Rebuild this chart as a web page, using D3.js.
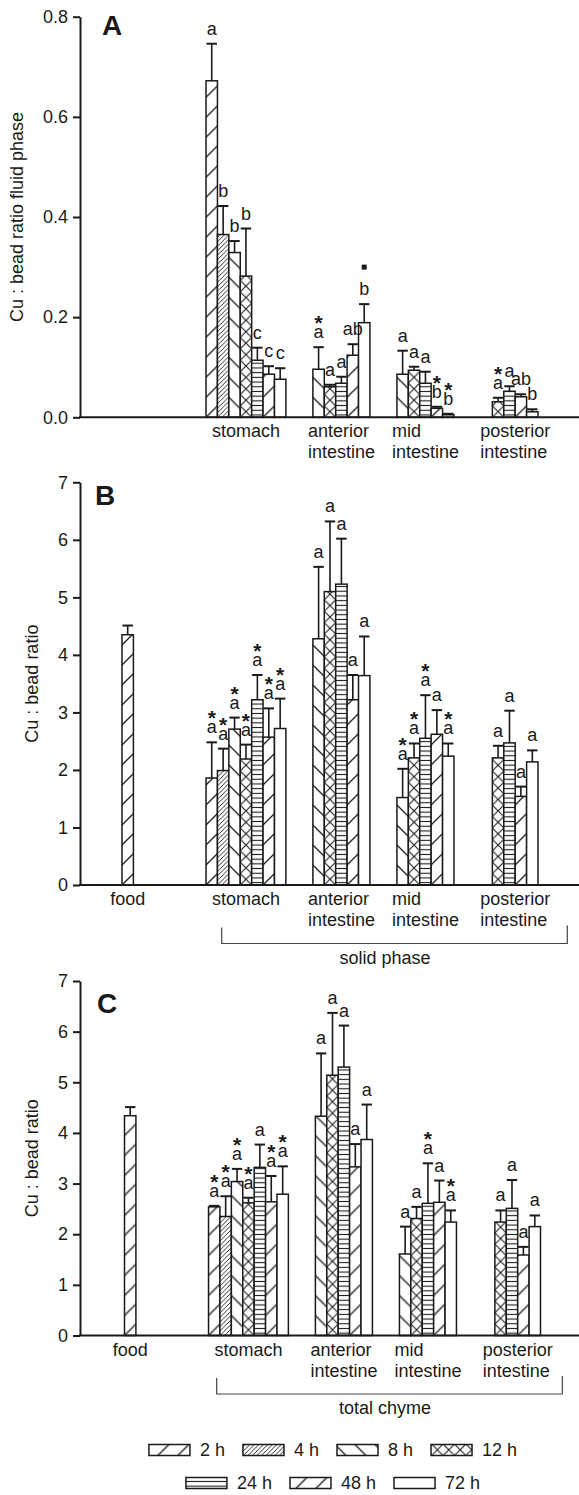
<!DOCTYPE html>
<html>
<head>
<meta charset="utf-8">
<script src="https://cdn.jsdelivr.net/npm/d3@7"></script>
<style>
  body { margin: 0; background: #fff; }
  svg { display: block; font-family: 'Liberation Sans', Arial, Helvetica, sans-serif; }
</style>
</head>
<body>
<svg id="chart" width="579" height="1495"></svg>
<script>
const hours = ['2 h', '4 h', '8 h', '12 h', '24 h', '48 h', '72 h']
const sites = ['food', 'stomach', 'anterior intestine', 'mid intestine', 'posterior intestine']
const siteLines = [['food'], ['stomach'], ['anterior', 'intestine'], ['mid', 'intestine'], ['posterior', 'intestine']]

const fluidTicks = [0, 0.2, 0.4, 0.6, 0.8]
const ratioTicks = [0, 1, 2, 3, 4, 5, 6, 7]

// A: fluid phase, rows = sites, columns = hours
const fluidMean = [
  [null, null, null, null, null, null, null],
  [0.672, 0.365, 0.329, 0.282, 0.114, 0.086, 0.076],
  [null, null, 0.096, 0.061, 0.068, 0.124, 0.189],
  [null, null, 0.086, 0.094, 0.068, 0.018, 0.005],
  [null, null, null, 0.031, 0.052, 0.041, 0.011]
]
const fluidSE = [
  [null, null, null, null, null, null, null],
  [0.074, 0.057, 0.023, 0.095, 0.025, 0.016, 0.022],
  [null, null, 0.044, 0.004, 0.013, 0.022, 0.037],
  [null, null, 0.047, 0.007, 0.023, 0.003, 0.002],
  [null, null, null, 0.008, 0.010, 0.005, 0.005]
]
const fluidLetters = [
  ['', '', '', '', '', '', ''],
  ['a', 'b', 'b', 'b', 'c', 'c', 'c'],
  ['', '', 'a', 'a', 'a', 'ab', 'b'],
  ['', '', 'a', 'a', 'a', 'b', 'b'],
  ['', '', '', 'a', 'a', 'ab', 'b']
]
const fluidMarks = [
  ['', '', '', '', '', '', ''],
  ['', '', '', '', '', '', ''],
  ['', '', '*', '', '', '', '■'],
  ['', '', '', '', '', '*', '*'],
  ['', '', '', '*', '', '', '']
]

// B: solid phase
const solidMean = [
  [4.35, null, null, null, null, null, null],
  [1.86, 1.99, 2.71, 2.19, 3.22, 2.57, 2.72],
  [null, null, 4.28, 5.10, 5.23, 3.22, 3.64],
  [null, null, 1.52, 2.21, 2.55, 2.62, 2.24],
  [null, null, null, 2.21, 2.47, 1.54, 2.14]
]
const solidSE = [
  [0.16, null, null, null, null, null, null],
  [0.62, 0.38, 0.20, 0.25, 0.43, 0.50, 0.52],
  [null, null, 1.25, 1.22, 0.79, 0.43, 0.68],
  [null, null, 0.50, 0.25, 0.75, 0.42, 0.22],
  [null, null, null, 0.21, 0.56, 0.17, 0.20]
]
const solidLetters = [
  ['', '', '', '', '', '', ''],
  ['a', 'a', 'a', 'a', 'a', 'a', 'a'],
  ['', '', 'a', 'a', 'a', 'a', 'a'],
  ['', '', 'a', 'a', 'a', 'a', 'a'],
  ['', '', '', 'a', 'a', 'a', 'a']
]
const solidMarks = [
  ['', '', '', '', '', '', ''],
  ['*', '*', '*', '*', '*', '*', '*'],
  ['', '', '', '', '', '', ''],
  ['', '', '*', '*', '*', '', '*'],
  ['', '', '', '', '', '', '']
]

// C: total chyme
const totalMean = [
  [4.34, null, null, null, null, null, null],
  [2.54, 2.35, 3.04, 2.62, 3.32, 2.64, 2.79],
  [null, null, 4.33, 5.14, 5.30, 3.33, 3.87],
  [null, null, 1.61, 2.31, 2.61, 2.63, 2.24],
  [null, null, null, 2.24, 2.51, 1.59, 2.15]
]
const totalSE = [
  [0.17, null, null, null, null, null, null],
  [0.02, 0.40, 0.25, 0.10, 0.45, 0.51, 0.55],
  [null, null, 1.24, 1.23, 0.82, 0.45, 0.69],
  [null, null, 0.54, 0.23, 0.79, 0.43, 0.23],
  [null, null, null, 0.23, 0.56, 0.16, 0.22]
]
const totalLetters = solidLetters
const totalMarks = [
  ['', '', '', '', '', '', ''],
  ['*', '*', '*', '*', '', '*', '*'],
  ['', '', '', '', '', '', ''],
  ['', '', '', '', '*', '', '*'],
  ['', '', '', '', '', '', '']
]

const ink = '#1a1a1a'
const fs = 18
const axisX = 80
const W = 579

const panels = [
  { id: 'A', mean: fluidMean, se: fluidSE, letters: fluidLetters, marks: fluidMarks, yMax: 0.8, ticks: fluidTicks, fmt: d3.format('.1f'),
    title: 'Cu : bead ratio fluid phase', top: 16.7, bottom: 417.3, titleX: 23, dx: 0, letterPos: [102, 35] },
  { id: 'B', mean: solidMean, se: solidSE, letters: solidLetters, marks: solidMarks, yMax: 7, ticks: ratioTicks, fmt: d3.format('d'),
    title: 'Cu : bead ratio', top: 482.3, bottom: 885, titleX: 38, dx: 0, letterPos: [95, 505],
    bracket: 'solid phase', bracketX: [221.7, 567.3], bracketTextX: 385 },
  { id: 'C', mean: totalMean, se: totalSE, letters: totalLetters, marks: totalMarks, yMax: 7, ticks: ratioTicks, fmt: d3.format('d'),
    title: 'Cu : bead ratio', top: 981, bottom: 1335.5, titleX: 38, dx: 2.5, letterPos: [97, 1013],
    bracket: 'total chyme', bracketX: [216.7, 562.3], bracketTextX: 385 }
]

const svg = d3.select('#chart')
svg.append('rect').attr('width', W).attr('height', 1495).attr('fill', '#fff')
const defs = svg.append('defs')

// hatch fill for one hour, anchored at (px, py)
function hatch (id, hi, px, py, cell) {
  if (hi === 6) return '#fff'
  let w = 20
  let h = 20
  let d = ''
  let sw = 1.3
  if (hi === 0 || hi === 5) {
    d = 'M0,20 L20,0 M-1,1 L1,-1 M19,21 L21,19'
  } else if (hi === 1) {
    w = h = 4.5; sw = 0.9
    d = 'M0,4.5 L4.5,0 M-1,1 L1,-1 M3.5,5.5 L5.5,3.5'
  } else if (hi === 2) {
    d = 'M0,0 L20,20 M-1,19 L1,21 M19,-1 L21,1'
  } else if (hi === 3) {
    w = h = cell; sw = 1.1
    d = 'M0,0 L' + cell + ',' + cell + ' M' + cell + ',0 L0,' + cell
  } else if (hi === 4) {
    w = 10; h = 4.7; sw = 1.1
    d = 'M0,2.35 L10,2.35'
  }
  const p = defs.append('pattern')
    .attr('id', id)
    .attr('patternUnits', 'userSpaceOnUse')
    .attr('x', px).attr('y', py)
    .attr('width', w).attr('height', h)
  p.append('rect').attr('width', w).attr('height', h).attr('fill', '#fff')
  p.append('path').attr('d', d).attr('stroke', ink).attr('stroke-width', sw).attr('fill', 'none')
  return 'url(#' + id + ')'
}

let cellSize = 11.4

panels.forEach(function (pn) {
  const g = svg.append('g').attr('class', 'panel-' + pn.id)

  const x0 = d3.scaleBand()
    .domain(sites)
    .range([122 + pn.dx, 538 + pn.dx])
    .paddingInner(0.05)
    .paddingOuter(0)
  const x1 = d3.scaleBand()
    .domain(hours)
    .range([0, x0.bandwidth()])
  const y = d3.scaleLinear()
    .domain([0, pn.yMax])
    .range([pn.bottom, pn.top])
  const bw = x1.bandwidth()
  cellSize = bw

  const data = []
  sites.forEach(function (s, si) {
    hours.forEach(function (h, hi) {
      const v = pn.mean[si][hi]
      if (v == null) return
      data.push({
        site: s, si: si, hour: h, hi: hi, mean: v, se: pn.se[si][hi],
        letter: pn.letters[si][hi], mark: pn.marks[si][hi]
      })
    })
  })
  const bx = function (d) { return x0(d.site) + x1(d.hour) }
  const cx = function (d) { return bx(d) + bw / 2 }

  // bars
  g.selectAll('.bar')
    .data(data)
    .enter().append('rect')
      .attr('class', 'bar')
      .attr('x', bx)
      .attr('y', function (d) { return y(d.mean) })
      .attr('width', bw)
      .attr('height', function (d) { return y(0) - y(d.mean) })
      .attr('fill', function (d) { return hatch('p' + pn.id + d.si + d.hi, d.hi, bx(d), y(0), bw) })
      .attr('stroke', ink)
      .attr('stroke-width', 1.5)

  // error bars
  const err = g.selectAll('.err')
    .data(data.filter(function (d) { return d.se != null }))
    .enter().append('g')
      .attr('class', 'err')
  err.append('line')
    .attr('x1', cx).attr('x2', cx)
    .attr('y1', function (d) { return y(d.mean) })
    .attr('y2', function (d) { return y(d.mean + d.se) })
    .attr('stroke', ink).attr('stroke-width', 1.6)
  err.append('line')
    .attr('x1', function (d) { return cx(d) - (bw - 1) / 2 })
    .attr('x2', function (d) { return cx(d) + (bw - 1) / 2 })
    .attr('y1', function (d) { return y(d.mean + d.se) })
    .attr('y2', function (d) { return y(d.mean + d.se) })
    .attr('stroke', ink).attr('stroke-width', 2)

  // significance letters and marks
  const lab = data.filter(function (d) { return d.letter })
  const letterY = function (d) { return y(d.mean + d.se) - 9 }
  g.selectAll('.sig')
    .data(lab)
    .enter().append('text')
      .attr('class', 'sig')
      .attr('x', cx)
      .attr('y', letterY)
      .attr('text-anchor', 'middle')
      .attr('font-size', fs)
      .attr('fill', ink)
      .text(function (d) { return d.letter })
  g.selectAll('.star')
    .data(lab.filter(function (d) { return d.mark === '*' }))
    .enter().append('text')
      .attr('class', 'star')
      .attr('x', cx)
      .attr('y', function (d) { return letterY(d) - 8 })
      .attr('text-anchor', 'middle')
      .attr('font-size', 21)
      .attr('font-weight', 'bold')
      .attr('fill', ink)
      .text('*')
  g.selectAll('.sq')
    .data(lab.filter(function (d) { return d.mark === '■' }))
    .enter().append('rect')
      .attr('class', 'sq')
      .attr('x', function (d) { return cx(d) - 2.5 })
      .attr('y', function (d) { return letterY(d) - 30.5 })
      .attr('width', 5).attr('height', 5)
      .attr('fill', ink)

  // axes
  const yAxis = d3.axisLeft(y)
    .tickValues(pn.ticks)
    .tickFormat(pn.fmt)
    .tickSize(7)
    .tickSizeOuter(0)
    .tickPadding(5)
  const ya = g.append('g')
    .attr('transform', 'translate(' + axisX + ',0)')
    .call(yAxis)
  ya.attr('font-family', null)
  ya.select('.domain').attr('stroke', ink).attr('stroke-width', 2)
  ya.selectAll('.tick line').attr('stroke', ink).attr('stroke-width', 2)
  ya.selectAll('.tick text').attr('font-size', fs).attr('fill', ink)

  g.append('line')
    .attr('x1', axisX - 1).attr('x2', W)
    .attr('y1', y(0)).attr('y2', y(0))
    .attr('stroke', ink).attr('stroke-width', 2)

  // site labels, centred under the bars that are present
  sites.forEach(function (s, si) {
    const present = data.filter(function (d) { return d.si === si })
    if (!present.length) return
    const left = d3.min(present, bx)
    const right = d3.max(present, function (d) { return bx(d) + bw })
    const t = g.append('text').attr('font-size', fs).attr('fill', ink)
    siteLines[si].forEach(function (ln, li) {
      t.append('tspan').attr('x', 0).attr('y', y(0) + 20 + li * 21).text(ln)
    })
    const bb = t.node().getBBox()
    t.attr('transform', 'translate(' + ((left + right) / 2 - bb.width / 2) + ',0)')
  })

  // y title
  g.append('text')
    .attr('transform', 'translate(' + pn.titleX + ',' + ((pn.top + pn.bottom) / 2) + ') rotate(-90)')
    .attr('text-anchor', 'middle')
    .attr('font-size', fs)
    .attr('fill', ink)
    .text(pn.title)

  // panel letter
  g.append('text')
    .attr('x', pn.letterPos[0]).attr('y', pn.letterPos[1])
    .attr('font-size', 28)
    .attr('font-weight', 'bold')
    .attr('fill', ink)
    .text(pn.id)

  // bracket
  if (pn.bracket) {
    const by = y(0) + 58.5
    g.append('path')
      .attr('d', 'M' + pn.bracketX[0] + ',' + (by - 16) + ' V' + by + ' H' + pn.bracketX[1] + ' V' + (by - 18))
      .attr('fill', 'none')
      .attr('stroke', '#444')
      .attr('stroke-width', 1.2)
    g.append('text')
      .attr('x', pn.bracketTextX).attr('y', y(0) + 78.5)
      .attr('text-anchor', 'middle')
      .attr('font-size', fs)
      .attr('fill', ink)
      .text(pn.bracket)
  }
})

// legend
const legendRows = [[0, 1, 2, 3], [4, 5, 6]]
const legendTop = [1444.5, 1477.5]
const sw = 41
const sh = 11
const legend = svg.append('g').attr('class', 'legend')
legendRows.forEach(function (row, ri) {
  const rg = legend.append('g')
  let xpos = 0
  const starts = []
  row.forEach(function (hi) {
    starts.push(xpos)
    const t = rg.append('text')
      .attr('x', xpos + sw + 10).attr('y', legendTop[ri] + sh / 2 + 6.3)
      .attr('font-size', fs)
      .attr('fill', ink)
      .text(hours[hi])
    xpos += sw + 10 + t.node().getComputedTextLength() + 18
  })
  const off = 333 - (xpos - 18) / 2
  rg.attr('transform', 'translate(' + off + ',0)')
  row.forEach(function (hi, k) {
    rg.append('rect')
      .attr('x', starts[k]).attr('y', legendTop[ri])
      .attr('width', sw).attr('height', sh)
      .attr('stroke', ink).attr('stroke-width', 1.5)
      .attr('fill', hatch('leg' + hi, hi, off + starts[k], legendTop[ri] + sh, cellSize))
  })
})
</script>
</body>
</html>
